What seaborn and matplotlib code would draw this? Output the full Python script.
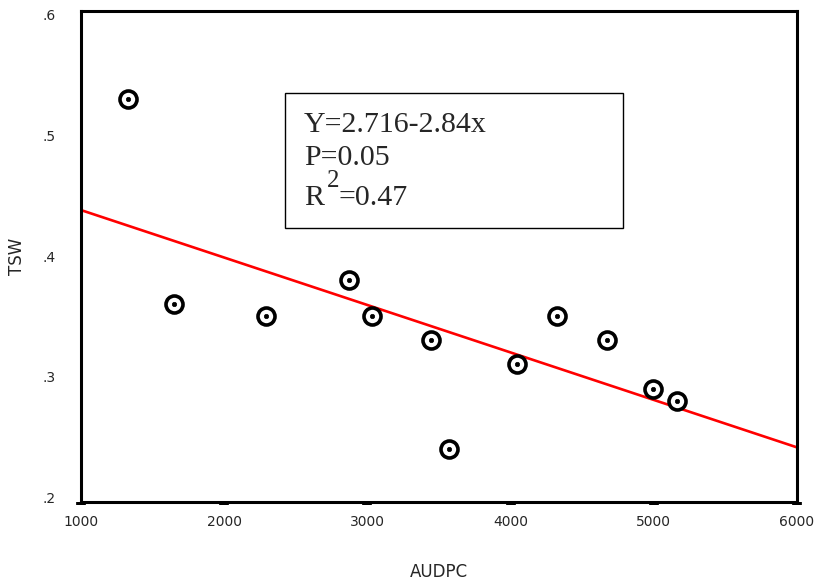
import pandas as pd
import matplotlib
matplotlib.use('Agg')
import matplotlib.pyplot as plt
import seaborn as sns

# data
audpc = [1330, 1650, 2290, 2870, 3030, 3445, 3570, 4045, 4325, 4675, 4995, 5165]
tsw = [0.53, 0.36, 0.35, 0.38, 0.35, 0.33, 0.24, 0.31, 0.35, 0.33, 0.29, 0.28]
x_ticks = [1000, 2000, 3000, 4000, 5000, 6000]
y_ticks = [0.2, 0.3, 0.4, 0.5, 0.6]
y_tick_labels = ['.2', '.3', '.4', '.5', '.6']
stats_lines = ['Y=2.716-2.84x', 'P=0.05']

df = pd.DataFrame({'AUDPC': audpc, 'TSW': tsw})

sns.set_theme(style="white")
plt.rcParams['font.family'] = ['DejaVu Sans']

fig = plt.figure(figsize=(8.14, 5.84), dpi=100)
ax = fig.add_axes([0.0995, 0.1404, 0.8796, 0.8408])
ax.set_xlim(1000, 6000)
ax.set_ylim(0.1959, 0.6033)

# regression line over the full x range
sns.regplot(x='AUDPC', y='TSW', data=df, ci=None, truncate=False, scatter=False,
            line_kws={'color': '#ff0000', 'lw': 1.9}, ax=ax)

# target-style markers: ring + centre dot
sns.scatterplot(x='AUDPC', y='TSW', data=df, marker='o', s=150, facecolor='white',
                edgecolor='black', linewidth=2.6, zorder=3, ax=ax)
sns.scatterplot(x='AUDPC', y='TSW', data=df, marker='o', s=10, color='black',
                edgecolor='black', linewidth=0.5, zorder=4, ax=ax)

ax.set_xlim(1000, 6000)
ax.set_ylim(0.1959, 0.6033)
ax.set_xticks(x_ticks)
ax.set_xticklabels([str(v) for v in x_ticks])
ax.set_yticks(y_ticks)
ax.set_yticklabels(y_tick_labels)

for s in ax.spines.values():
    s.set_color('black')
    s.set_linewidth(2.2)

ax.tick_params(axis='x', bottom=True, direction='out', length=2.5, width=7,
               color='black', labelsize=10, pad=7)
ax.tick_params(axis='y', left=False, labelsize=10, pad=12)

ax.set_xlabel('AUDPC', fontsize=12, labelpad=24)
ax.set_ylabel('TSW', fontsize=12, labelpad=12)

# statistics box
box = plt.Rectangle((0.285, 0.558), 0.472, 0.275, transform=ax.transAxes,
                    fill=False, edgecolor='black', lw=1.0, zorder=5)
ax.add_patch(box)
serif = ['Liberation Serif', 'DejaVu Serif']
ax.text(0.3115, 0.7536, stats_lines[0], transform=ax.transAxes, family=serif,
        fontsize=21.5, va='baseline')
ax.text(0.3115, 0.6864, stats_lines[1], transform=ax.transAxes, family=serif,
        fontsize=21.5, va='baseline')
ax.text(0.3115, 0.6049, 'R', transform=ax.transAxes, family=serif,
        fontsize=21.5, va='baseline')
ax.text(0.3436, 0.6415, '2', transform=ax.transAxes, family=serif,
        fontsize=18, va='baseline')
ax.text(0.3603, 0.6049, '=0.47', transform=ax.transAxes, family=serif,
        fontsize=21.5, va='baseline')

fig.savefig('out.png', dpi=100)
